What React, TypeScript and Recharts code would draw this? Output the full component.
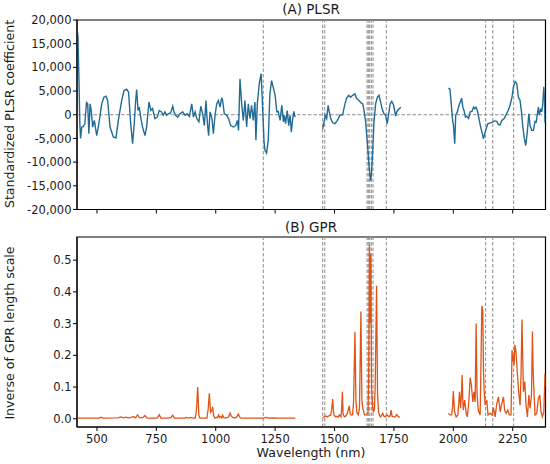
import { LineChart, Line, XAxis, YAxis, ReferenceLine, ReferenceArea } from "recharts";

const FONT = "DejaVu Sans, sans-serif";
const X_MIN = 416;
const X_MAX = 2388;

const xTicks = [500, 750, 1000, 1250, 1500, 1750, 2000, 2250];
const plsrTicks = [-20000, -15000, -10000, -5000, 0, 5000, 10000, 15000, 20000];
const gprTicks = [0, 0.1, 0.2, 0.3, 0.4, 0.5];

// selected wavelengths (dashed markers)
const bandLines = [1200, 1450, 1459, 1637, 1642, 1648, 1655, 1662, 1718, 2136, 2166, 2254];

// PLSR coefficients, [nm, value], three spectral segments (water bands removed)
const plsrSeg1 = [
  [417, 17800], [420, 16500], [424, 8000], [428, -2000], [431, -5000], [436, -2600], [442, -2500],
  [449, -1900], [456, 2600], [461, 2300], [466, -4000], [471, 2300], [476, 900], [482, -2600],
  [489, -1200], [499, -4400], [508, -1900], [520, 2300], [529, 3700], [538, 3900], [545, 3000],
  [555, -2600], [569, -4700], [580, -4900], [590, -1200], [604, 3000], [614, 5100], [625, 5400],
  [633, 4800], [642, -1900], [650, -6100], [657, -1900], [663, 3000], [667, 5300], [673, 900],
  [678, 1600], [684, -500], [692, -2600], [702, -4400], [709, -2600], [719, 2700], [727, 900],
  [734, 1300], [744, -800], [754, -500], [762, 900], [772, 600], [779, -100], [786, 600],
  [793, -100], [800, 200], [810, 400], [819, 1800], [824, 600], [831, -100], [840, -500],
  [849, 200], [861, 600], [871, -100], [880, 200], [889, -350], [899, 2300], [906, -500],
  [913, 600], [920, -800], [929, -1500], [937, 1800], [945, 200], [952, -2300], [959, 3000],
  [965, -1900], [970, -4400], [976, 600], [984, -800], [990, -4000], [997, -100], [1004, 2300],
  [1011, 3000], [1018, 1600], [1025, 3600], [1029, 3000], [1036, 200], [1046, -100], [1054, -800],
  [1063, -2300], [1074, -2600], [1084, -2300], [1091, -1200], [1096, -3300], [1102, 7600],
  [1109, 2300], [1116, -1200], [1123, 3000], [1130, -2600], [1137, 2300], [1144, -800],
  [1151, 2000], [1158, -1200], [1165, 2700], [1169, -5400], [1175, 2300], [1183, 6500],
  [1191, 8700], [1196, 3000], [1203, -5400], [1207, -7500], [1214, -8100], [1221, -5400],
  [1228, 4400], [1235, 7200], [1242, 5800], [1250, 4100], [1257, 600], [1263, 700], [1271, -1200],
  [1278, 2000], [1285, -1500], [1289, -100], [1294, -1900], [1301, 900], [1307, -2300],
  [1313, -100], [1318, -3700], [1324, -800], [1329, 700], [1334, -500],
];
const plsrSeg2 = [
  [1450, -3000], [1456, -1550], [1461, -100], [1467, -800], [1473, 2000], [1478, 600], [1484, -800],
  [1492, -1700], [1502, -1900], [1512, -1200], [1523, -100], [1534, 0], [1544, 2300], [1551, 3500],
  [1560, 4100], [1568, 3700], [1576, 4100], [1586, 4400], [1593, 3400], [1603, 3000], [1612, 2500],
  [1619, 2300], [1624, 900], [1631, -1550], [1638, -5800], [1644, -10000], [1649, -12800],
  [1652, -13900], [1656, -12100], [1661, -7200], [1666, -1550], [1673, 2300], [1680, 3700],
  [1687, 4100], [1694, 2700], [1700, 1300], [1708, 200], [1715, -100], [1722, -1900], [1728, 200],
  [1734, 2300], [1741, 2800], [1748, 2100], [1753, 900], [1757, -300], [1762, 600], [1769, 1100],
  [1779, 1600],
];
const plsrSeg3 = [
  [1979, 5600], [1986, 5400], [1993, 1300], [1998, -1700], [2000, -1900], [2006, -6100], [2010, -100],
  [2017, 600], [2024, 2000], [2030, 2800], [2035, 3500], [2040, 1600], [2045, 900], [2051, -500],
  [2056, -300], [2064, -800], [2071, 600], [2078, 700], [2085, 1600], [2090, 1300], [2096, 1600],
  [2101, 900], [2108, -800], [2115, -2600], [2122, -4000], [2127, -5100], [2132, -4000],
  [2138, -3000], [2145, -1900], [2155, -1700], [2165, -1550], [2173, -1300], [2183, -1400],
  [2190, -2100], [2197, -2100], [2204, -1200], [2214, -800], [2222, 0], [2231, 900], [2239, 2000],
  [2247, 3700], [2253, 5900], [2260, 7000], [2267, 6600], [2274, 3700], [2281, 3000], [2287, 600],
  [2292, -2300], [2299, -5100], [2305, -6500], [2312, -3300], [2318, 200], [2323, -2300],
  [2330, -3300], [2337, -3300], [2344, -1400], [2349, -1550], [2354, 200], [2358, 1600],
  [2362, -100], [2368, 1300], [2372, 600], [2376, 2000], [2381, 5900], [2384, 3000], [2386, -1700],
  [2388, -1500],
];

// inverse GPR length scale, [nm, value]
const gprSeg1 = [
  [417, 0.002], [500, 0.002], [510, 0.002], [517, 0.005], [525, 0.002], [590, 0.003], [601, 0.006],
  [612, 0.003], [622, 0.005], [632, 0.003], [643, 0.004], [653, 0.007], [662, 0.003], [671, 0.012],
  [678, 0.004], [685, 0.003], [694, 0.004], [702, 0.01], [710, 0.003], [718, 0.002], [745, 0.002],
  [755, 0.003], [762, 0.013], [769, 0.002], [800, 0.002], [812, 0.004], [819, 0.011], [826, 0.002],
  [870, 0.002], [875, 0.004], [885, 0.002], [896, 0.004], [905, 0.002], [914, 0.002], [919, 0.03],
  [924, 0.1], [929, 0.01], [934, 0.002], [963, 0.002], [968, 0.03], [973, 0.08], [978, 0.02],
  [983, 0.025], [987, 0.037], [991, 0.01], [996, 0.002], [1004, 0.005], [1008, 0.003], [1012, 0.012],
  [1017, 0.004], [1022, 0.007], [1026, 0.003], [1029, 0.011], [1034, 0.004], [1039, 0.002],
  [1050, 0.004], [1055, 0.006], [1060, 0.018], [1066, 0.008], [1071, 0.004], [1082, 0.002],
  [1089, 0.006], [1095, 0.015], [1101, 0.005], [1106, 0.002], [1150, 0.002], [1200, 0.002],
  [1212, 0.004], [1220, 0.002], [1240, 0.003], [1260, 0.002], [1310, 0.002], [1335, 0.002],
];
const gprSeg2 = [
  [1450, 0.003], [1456, 0.006], [1464, 0.009], [1470, 0.006], [1478, 0.01], [1484, 0.012],
  [1488, 0.03], [1492, 0.062], [1496, 0.02], [1499, 0.01], [1505, 0.006], [1509, 0.008],
  [1515, 0.005], [1520, 0.012], [1527, 0.006], [1530, 0.03], [1533, 0.085], [1536, 0.015],
  [1540, 0.008], [1544, 0.006], [1550, 0.012], [1554, 0.017], [1562, 0.041], [1566, 0.015],
  [1570, 0.012], [1576, 0.013], [1580, 0.05], [1586, 0.274], [1590, 0.06], [1594, 0.02],
  [1600, 0.012], [1605, 0.033], [1611, 0.338], [1615, 0.06], [1619, 0.033], [1626, 0.012],
  [1635, 0.012], [1641, 0.02], [1644, 0.15], [1647, 0.548], [1650, 0.3], [1653, 0.52], [1656, 0.1],
  [1660, 0.04], [1664, 0.02], [1668, 0.03], [1671, 0.1], [1677, 0.419], [1681, 0.08], [1685, 0.022],
  [1690, 0.01], [1694, 0.006], [1703, 0.017], [1708, 0.008], [1713, 0.006], [1722, 0.012],
  [1729, 0.006], [1734, 0.01], [1738, 0.027], [1742, 0.008], [1748, 0.006], [1755, 0.006],
  [1762, 0.013], [1769, 0.006], [1776, 0.005],
];
const gprSeg3 = [
  [1979, 0.017], [1986, 0.012], [1993, 0.012], [1997, 0.04], [2000, 0.087], [2005, 0.022],
  [2012, 0.006], [2019, 0.012], [2023, 0.05], [2026, 0.085], [2031, 0.033], [2035, 0.09],
  [2037, 0.138], [2040, 0.06], [2042, 0.028], [2048, 0.059], [2054, 0.017], [2059, 0.006],
  [2065, 0.053], [2071, 0.13], [2076, 0.106], [2082, 0.053], [2087, 0.085], [2092, 0.053],
  [2096, 0.3], [2100, 0.08], [2104, 0.035], [2107, 0.022], [2113, 0.012], [2117, 0.2], [2120, 0.356],
  [2124, 0.34], [2127, 0.15], [2130, 0.085], [2134, 0.043], [2141, 0.059], [2146, 0.012],
  [2150, 0.015], [2155, 0.017], [2163, 0.012], [2169, 0.035], [2176, 0.006], [2183, 0.048],
  [2190, 0.069], [2197, 0.022], [2204, 0.048], [2211, 0.069], [2216, 0.027], [2222, 0.017],
  [2229, 0.027], [2236, 0.012], [2243, 0.012], [2247, 0.217], [2250, 0.18], [2253, 0.2],
  [2256, 0.17], [2259, 0.233], [2264, 0.21], [2270, 0.138], [2275, 0.085], [2281, 0.043],
  [2285, 0.138], [2289, 0.313], [2292, 0.2], [2295, 0.085], [2301, 0.117], [2306, 0.043],
  [2312, 0.006], [2318, 0.075], [2323, 0.033], [2329, 0.075], [2333, 0.275], [2336, 0.15],
  [2339, 0.095], [2344, 0.012], [2351, 0.017], [2358, 0.064], [2364, 0.075], [2369, 0.022],
  [2375, 0.006], [2381, 0.022], [2386, 0.143], [2388, 0.1],
];

// join segments, with a null point in each removed band so the line breaks
function joinSegments(segs: number[][][]) {
  const gaps = [1390, 1880];
  const out: { nm: number; v: number | null }[] = [];
  segs.forEach((seg, i) => {
    seg.forEach(([nm, v]) => out.push({ nm, v }));
    if (i < gaps.length) out.push({ nm: gaps[i], v: null });
  });
  return out;
}

const plsrData = joinSegments([plsrSeg1, plsrSeg2, plsrSeg3]);
const gprData = joinSegments([gprSeg1, gprSeg2, gprSeg3]);

const tickStyle = { fill: "#1a1a1a", fontSize: 11.5, fontFamily: FONT };
const dash = "3.5 2";
const refGray = "#8c8c8c";

const text = (s: React.CSSProperties): React.CSSProperties => ({
  position: "absolute",
  fontFamily: FONT,
  fontSize: 12.6,
  color: "#1a1a1a",
  whiteSpace: "nowrap",
  lineHeight: 1,
  ...s,
});

export default function App() {
  return (
    <div style={{ position: "absolute", left: 0, top: 0, width: 550, height: 464, background: "#fff" }}>
      <div style={{ position: "absolute", left: 0, top: 0 }}>
        <LineChart width={550} height={230} margin={{ top: 20, right: 4.5, bottom: 0.5, left: 0 }}>
          <XAxis
            type="number"
            dataKey="nm"
            domain={[X_MIN, X_MAX]}
            ticks={xTicks}
            allowDataOverflow
            height={20}
            tickSize={4}
            tickFormatter={() => ""}
            tickLine={{ stroke: "#000" }}
            axisLine={{ stroke: "#000" }}
          />
          <YAxis
            type="number"
            domain={[-20000, 20000]}
            ticks={plsrTicks}
            allowDataOverflow
            width={77}
            tickSize={4}
            tickMargin={1.5}
            tick={tickStyle}
            tickFormatter={(v: number) => v.toLocaleString("en-US")}
            tickLine={{ stroke: "#000" }}
            axisLine={{ stroke: "#000" }}
            interval={0}
          />
          <ReferenceLine y={0} stroke={refGray} strokeDasharray={dash} />
          {bandLines.map((b) => (
            <ReferenceLine key={b} x={b} stroke={refGray} strokeDasharray={dash} />
          ))}
          <Line
            data={plsrData}
            dataKey="v"
            type="linear"
            stroke="#226b96"
            strokeWidth={1.4}
            dot={false}
            isAnimationActive={false}
          />
          <ReferenceArea x1={X_MIN} x2={X_MAX} y1={-20000} y2={20000} stroke="#000" strokeWidth={1.2} fill="none" fillOpacity={0} />
        </LineChart>
      </div>
      <div style={{ position: "absolute", left: 0, top: 230 }}>
        <LineChart width={550} height={234} margin={{ top: 7, right: 4.5, bottom: 0, left: 0 }}>
          <XAxis
            type="number"
            dataKey="nm"
            domain={[X_MIN, X_MAX]}
            ticks={xTicks}
            allowDataOverflow
            height={37}
            tickSize={4}
            tickMargin={4}
            tick={tickStyle}
            tickLine={{ stroke: "#000" }}
            axisLine={{ stroke: "#000" }}
            interval={0}
          />
          <YAxis
            type="number"
            domain={[-0.026, 0.573]}
            ticks={gprTicks}
            allowDataOverflow
            width={77}
            tickSize={4}
            tickMargin={1.5}
            tick={tickStyle}
            tickFormatter={(v: number) => v.toFixed(1)}
            tickLine={{ stroke: "#000" }}
            axisLine={{ stroke: "#000" }}
            interval={0}
          />
          {bandLines.map((b) => (
            <ReferenceLine key={b} x={b} stroke={refGray} strokeDasharray={dash} />
          ))}
          <Line
            data={gprData}
            dataKey="v"
            type="linear"
            stroke="#df5416"
            strokeWidth={1.3}
            dot={false}
            isAnimationActive={false}
          />
          <ReferenceArea x1={X_MIN} x2={X_MAX} y1={-0.026} y2={0.573} stroke="#000" strokeWidth={1.2} fill="none" fillOpacity={0} />
        </LineChart>
      </div>

      <div style={text({ left: 311, top: 10, fontSize: 13.5, transform: "translate(-50%, -50%)" })}>(A) PLSR</div>
      <div style={text({ left: 311, top: 228, fontSize: 13.5, transform: "translate(-50%, -50%)" })}>(B) GPR</div>
      <div style={text({ left: 311, top: 453, transform: "translate(-50%, -50%)" })}>Wavelength (nm)</div>
      <div style={text({ left: 10, top: 114, transform: "translate(-50%, -50%) rotate(-90deg)" })}>
        Standardized PLSR coefficient
      </div>
      <div style={text({ left: 10, top: 333, transform: "translate(-50%, -50%) rotate(-90deg)" })}>
        Inverse of GPR length scale
      </div>
    </div>
  );
}
